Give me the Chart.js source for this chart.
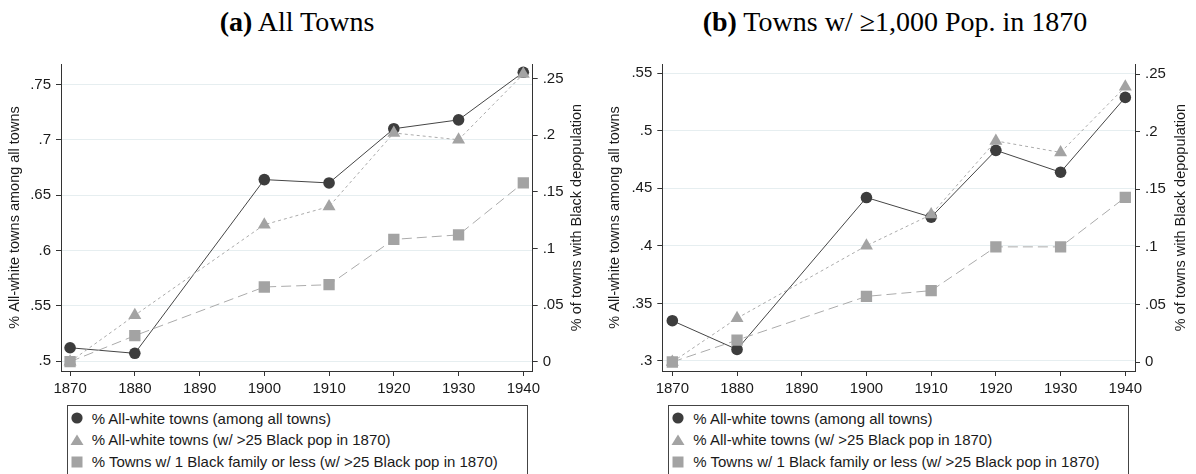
<!DOCTYPE html>
<html lang="en">
<head>
<meta charset="utf-8">
<title>All-white towns</title>
<script src="https://cdn.jsdelivr.net/npm/chart.js@4.4.1/dist/chart.umd.min.js"></script>
<style>
  body {
    margin: 0;
    width: 1196px;
    height: 474px;
    overflow: hidden;
    position: relative;
    background: #fff;
    font-family: "Liberation Sans", Arial, sans-serif;
    color: #1a1a1a;
  }
  .titulo {
    position: absolute;
    top: 8.3px;
    width: 600px;
    font-family: "Liberation Serif", "Times New Roman", serif;
    font-size: 28px;
    line-height: 28px;
    text-align: center;
    color: #000;
    white-space: nowrap;
  }
  .painel {
    position: absolute;
    top: 50px;
    width: 598px;
    height: 350px;
  }
  .legenda {
    position: absolute;
    top: 405px;
    width: 459px;
    height: 90px;
    border: 1px solid #444;
    padding-top: 1.5px;
    box-sizing: content-box;
  }
  .item {
    position: relative;
    height: 21.7px;
    line-height: 21.7px;
    font-size: 15px;
    padding-left: 24px;
    white-space: nowrap;
  }
  .item canvas {
    position: absolute;
    left: 2px;
    top: 3.85px;
  }
</style>
</head>
<body>
  <div class="titulo" style="left: -3px"><b>(a)</b> All Towns</div>
  <div class="titulo" style="left: 595px"><b>(b)</b> Towns w/ ≥1,000 Pop. in 1870</div>

  <div class="painel" style="left: 0px"><canvas id="graficoA" width="598" height="350"></canvas></div>
  <div class="painel" style="left: 598px"><canvas id="graficoB" width="598" height="350"></canvas></div>

  <div class="legenda" id="legendaA" style="left: 66.7px"></div>
  <div class="legenda" id="legendaB" style="left: 668.3px"></div>

<script>
// ===== DADOS =====
const anos = [1870, 1880, 1900, 1910, 1920, 1930, 1940];
const ticksAnos = [1870, 1880, 1890, 1900, 1910, 1920, 1930, 1940];

const rotulosSeries = [
  "% All-white towns (among all towns)",
  "% All-white towns (w/ >25 Black pop in 1870)",
  "% Towns w/ 1 Black family or less (w/ >25 Black pop in 1870)",
];

// painel (a) - todas as cidades
const todasBrancasA = [0.512, 0.507, 0.664, 0.661, 0.710, 0.718, 0.761];
const brancasNegrosA = [0.0, 0.041, 0.121, 0.137, 0.202, 0.196, 0.254];
const umaFamiliaA = [0.0, 0.023, 0.066, 0.068, 0.108, 0.112, 0.158];
const ticksEsquerdaA = [0.5, 0.55, 0.6, 0.65, 0.7, 0.75];

// painel (b) - cidades com >= 1.000 hab. em 1870
const todasBrancasB = [0.335, 0.310, 0.442, 0.425, 0.483, 0.464, 0.529];
const brancasNegrosB = [0.0, 0.038, 0.101, 0.128, 0.192, 0.182, 0.239];
const umaFamiliaB = [0.0, 0.019, 0.057, 0.062, 0.100, 0.100, 0.143];
const ticksEsquerdaB = [0.3, 0.35, 0.4, 0.45, 0.5, 0.55];

const ticksDireita = [0, 0.05, 0.1, 0.15, 0.2, 0.25];

const tituloEsquerda = "% All-white towns among all towns";
const tituloDireitaTexto = "% of towns with Black depopulation";

// ===== ESTILOS =====
const FONTE = '"Liberation Sans", Arial, sans-serif';
const COR_EIXO = "#333";
const COR_TEXTO = "#1a1a1a";
const COR_GRADE = "#e6eef0";

const estilos = [
  { ponto: "circle", raio: 5.8, cor: "#3d3d3d", linha: "#454545", tracejado: [] },
  { ponto: "triangle", raio: 7.5, cor: "#a3a3a3", linha: "#ababab", tracejado: [3, 3] },
  { ponto: "rect", raio: 8, cor: "#a3a3a3", linha: "#ababab", tracejado: [10, 5] },
];

function formatarTick(valor) {
  if (valor === 0) return "0";
  return String(Number(valor.toFixed(2))).replace(/^0\./, ".");
}

function pontos(valores) {
  return anos.map((ano, i) => ({ x: ano, y: valores[i] }));
}

// titulo do eixo direito, lido de baixo para cima como no original
const tituloDireita = {
  id: "tituloDireita",
  afterDraw(chart, args, opts) {
    const { ctx, chartArea } = chart;
    const escala = chart.scales.y2;
    ctx.save();
    ctx.translate(escala.right - opts.distancia, (chartArea.top + chartArea.bottom) / 2);
    ctx.rotate(-Math.PI / 2);
    ctx.font = `14.5px ${FONTE}`;
    ctx.fillStyle = COR_TEXTO;
    ctx.textAlign = "center";
    ctx.textBaseline = "middle";
    ctx.fillText(opts.texto, 0, 0);
    ctx.restore();
  },
};

function montarGrafico(id, series, cfg) {
  const ctx = document.getElementById(id).getContext("2d");
  const eixos = ["y", "y2", "y2"];

  const datasets = series.map((valores, i) => ({
    label: rotulosSeries[i],
    data: pontos(valores),
    yAxisID: eixos[i],
    order: 3 - i,
    borderColor: estilos[i].linha,
    borderWidth: 1,
    borderDash: estilos[i].tracejado,
    tension: 0,
    pointStyle: estilos[i].ponto,
    pointRadius: estilos[i].raio,
    pointBackgroundColor: estilos[i].cor,
    pointBorderWidth: 0,
  }));

  return new Chart(ctx, {
    type: "line",
    data: { datasets },
    options: {
      responsive: false,
      animation: false,
      layout: { padding: { top: 13, left: 0, right: 0, bottom: 0 } },
      plugins: {
        legend: { display: false },
        tooltip: { enabled: false },
        tituloDireita: { texto: tituloDireitaTexto, distancia: cfg.distTituloDir },
      },
      scales: {
        x: {
          type: "linear",
          min: cfg.xMin,
          max: cfg.xMax,
          afterBuildTicks: (s) => { s.ticks = ticksAnos.map((v) => ({ value: v })); },
          afterFit: (s) => { s.height = 29; },
          grid: { drawOnChartArea: false, tickLength: 5, tickColor: COR_EIXO },
          border: { color: COR_EIXO, width: 1 },
          ticks: {
            padding: 4,
            color: COR_TEXTO,
            font: { family: FONTE, size: 15 },
            callback: (v) => String(v),
          },
        },
        y: {
          position: "left",
          min: cfg.yMin,
          max: cfg.yMax,
          afterBuildTicks: (s) => { s.ticks = cfg.ticksEsq.map((v) => ({ value: v })); },
          afterFit: (s) => { s.width = cfg.largEsq; },
          grid: { color: COR_GRADE, lineWidth: 1, tickLength: 5, tickColor: COR_EIXO },
          border: { color: COR_EIXO, width: 1 },
          ticks: {
            padding: 5,
            color: COR_TEXTO,
            font: { family: FONTE, size: 15 },
            callback: (v) => formatarTick(v),
          },
          title: {
            display: true,
            text: tituloEsquerda,
            color: COR_TEXTO,
            font: { family: FONTE, size: 14.5 },
            padding: { top: cfg.padTituloEsq, bottom: 0 },
          },
        },
        y2: {
          position: "right",
          min: cfg.y2Min,
          max: cfg.y2Max,
          afterBuildTicks: (s) => { s.ticks = ticksDireita.map((v) => ({ value: v })); },
          afterFit: (s) => { s.width = cfg.largDir; },
          grid: { drawOnChartArea: false, tickLength: 5, tickColor: COR_EIXO },
          border: { color: COR_EIXO, width: 1 },
          ticks: {
            padding: 5,
            color: COR_TEXTO,
            font: { family: FONTE, size: 15 },
            callback: (v) => formatarTick(v),
          },
        },
      },
    },
    plugins: [tituloDireita],
  });
}

function desenharMarcador(canvas, estilo) {
  const c = canvas.getContext("2d");
  const x = 7;
  const y = 7;
  c.fillStyle = estilo.cor;
  c.beginPath();
  if (estilo.ponto === "circle") {
    c.arc(x, y, 5.6, 0, Math.PI * 2);
  } else if (estilo.ponto === "triangle") {
    c.moveTo(x, y - 5.5);
    c.lineTo(x + 6.5, y + 5);
    c.lineTo(x - 6.5, y + 5);
    c.closePath();
  } else {
    c.rect(x - 5.5, y - 5.5, 11, 11);
  }
  c.fill();
}

function montarLegenda(id) {
  const caixa = document.getElementById(id);
  caixa.innerHTML = "";
  rotulosSeries.forEach((rotulo, i) => {
    const item = document.createElement("div");
    item.className = "item";
    const marcador = document.createElement("canvas");
    marcador.width = 14;
    marcador.height = 14;
    desenharMarcador(marcador, estilos[i]);
    item.appendChild(marcador);
    item.appendChild(document.createTextNode(rotulo));
    caixa.appendChild(item);
  });
}

montarGrafico("graficoA", [todasBrancasA, brancasNegrosA, umaFamiliaA], {
  xMin: 1868.6, xMax: 1941.45,
  yMin: 0.491, yMax: 0.7685,
  y2Min: -0.0082, y2Max: 0.2629,
  ticksEsq: ticksEsquerdaA,
  largEsq: 61, largDir: 65.3,
  padTituloEsq: 6.3, distTituloDir: 21.3,
});

montarGrafico("graficoB", [todasBrancasB, brancasNegrosB, umaFamiliaB], {
  xMin: 1868.45, xMax: 1941.5,
  yMin: 0.2913, yMax: 0.558,
  y2Min: -0.0078, y2Max: 0.2588,
  ticksEsq: ticksEsquerdaB,
  largEsq: 64.3, largDir: 61,
  padTituloEsq: 8.3, distTituloDir: 15,
});

montarLegenda("legendaA");
montarLegenda("legendaB");
</script>
</body>
</html>
